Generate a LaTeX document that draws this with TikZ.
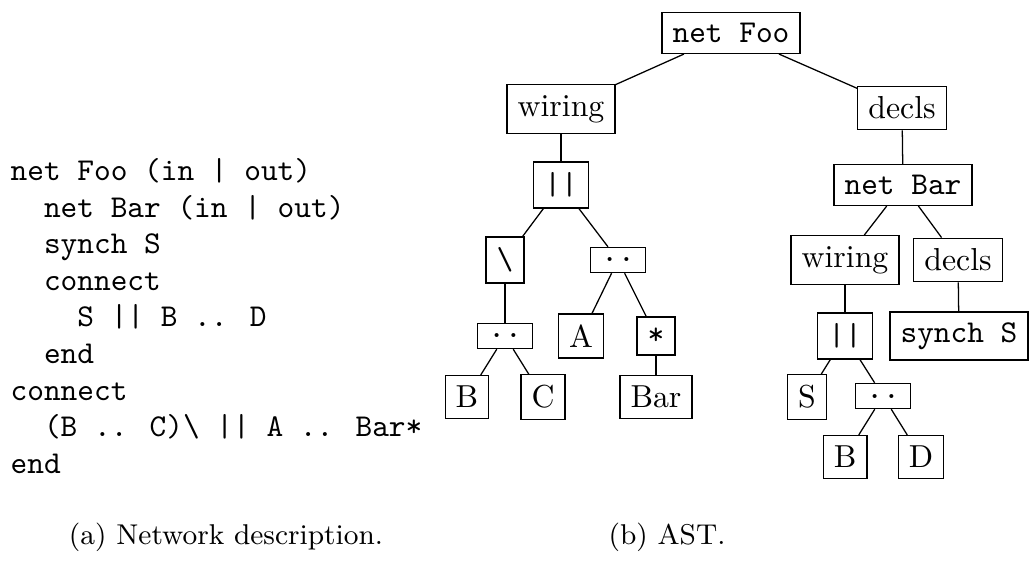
\documentclass[tikz,border=0pt]{standalone}
\usepackage{fontspec}

\tikzset{
  % every box of the tree
  ast/.style={draw, rectangle},
  % boxes whose label is code
  astcode/.style={ast, font=\ttfamily}
}

\begin{document}
\begin{tikzpicture}[x=0.3145pt, y=-0.3145pt]
% fix the page size first
\useasboundingbox (0,0) rectangle (1029,565);

% The network description, one node with all the lines
\node (code) [anchor=west, inner sep=0pt, align=left,
    font={\ttfamily\fontsize{10pt}{11.5pt}\selectfont}] at (10,316) {%
net Foo (in | out)\\
\ \ net Bar (in | out)\\
\ \ synch S\\
\ \ connect\\
\ \ \ \ S || B .. D\\
\ \ end\\
connect\\
\ \ (B .. C)\textbackslash\ || A .. Bar*\\
end};

% The AST, top level
\node (foo) [astcode] at (731,33) {net Foo};
\node (wiring1) [ast] at (561,109) {wiring};
\node (decls1) [ast] at (902,108) {decls};

% left branch: the wiring of Foo
\node (par1) [astcode] at (561,185) {||};
\node (hide) [astcode] at (505,260) {\textbackslash};
\node (seq1) [astcode] at (618,260) {..};
\node (seq2) [astcode] at (505,336) {..};
\node (A1) [ast] at (581,336) {A};
\node (star) [astcode] at (656,336) {*};
\node (B1) [ast] at (467,397) {B};
\node (C1) [ast] at (543,397) {C};
\node (bar) [ast] at (656,397) {Bar};

% right branch: the declarations of Foo
\node (netbar) [astcode] at (903,185) {net Bar};
\node (wiring2) [ast] at (845,260) {wiring};
\node (decls2) [ast] at (958,260) {decls};
\node (synch) [astcode] at (959,336) {synch S};
\node (par2) [astcode] at (845,336) {||};
\node (S2) [ast] at (807,397) {S};
\node (seq3) [astcode] at (883,396) {..};
\node (B2) [ast] at (845,457) {B};
\node (D2) [ast] at (921,457) {D};

% Now the edges, parent to child by the names above
\draw (foo) -- (wiring1);
\draw (foo) -- (decls1);
\draw (wiring1) -- (par1);
\draw (par1) -- (hide);
\draw (par1) -- (seq1);
\draw (hide) -- (seq2);
\draw (seq2) -- (B1);
\draw (seq2) -- (C1);
\draw (seq1) -- (A1);
\draw (seq1) -- (star);
\draw (star) -- (bar);
\draw (decls1) -- (netbar);
\draw (netbar) -- (wiring2);
\draw (netbar) -- (decls2);
\draw (decls2) -- (synch);
\draw (wiring2) -- (par2);
\draw (par2) -- (S2);
\draw (par2) -- (seq3);
\draw (seq3) -- (B2);
\draw (seq3) -- (D2);

% sub captions
\node (capa) [font=\small] at (226,537) {(a) Network description.};
\node (capb) [font=\small] at (667,537) {(b) AST.};
\end{tikzpicture}
\end{document}
